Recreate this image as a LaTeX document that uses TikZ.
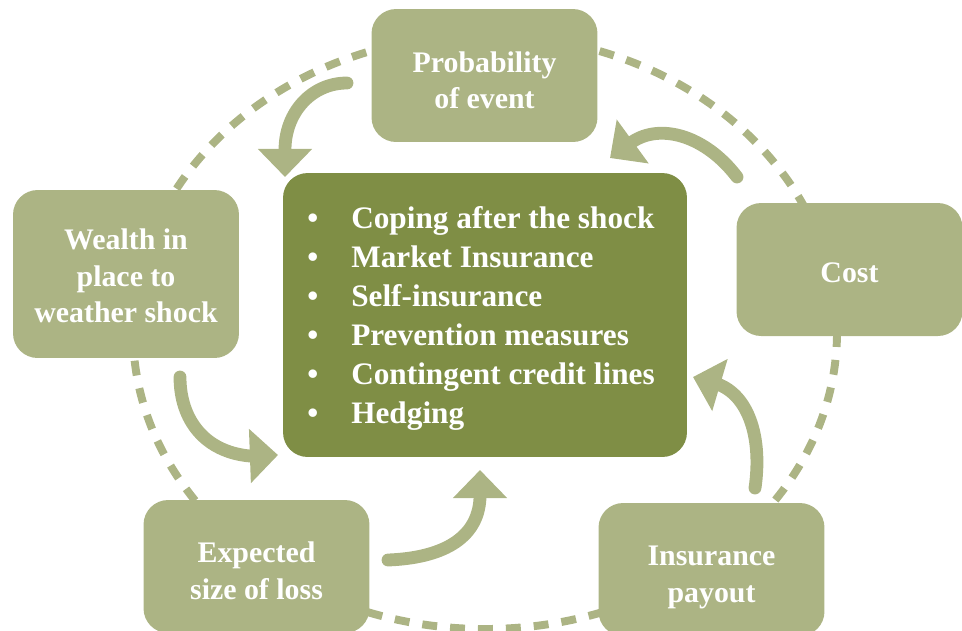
\documentclass[tikz,border=0pt]{standalone}
\usepackage{fontspec}
\setmainfont{Liberation Serif}
\usetikzlibrary{arrows.meta}
\definecolor{sage}{HTML}{ACB484}
\definecolor{olive}{HTML}{7F8E45}
\begin{document}
\begin{tikzpicture}[x=0.02cm,y=-0.02cm,
  lightbox/.style={fill=sage, rounded corners=14pt, inner sep=0pt,
    minimum height=2.66cm, minimum width=4.52cm},
  boxtext/.style={text=white, font=\bfseries\fontsize{17}{20.8}\selectfont,
    align=center, inner sep=0pt},
  mainbox/.style={fill=olive, rounded corners=14pt, inner sep=0pt,
    minimum width=8.08cm, minimum height=5.68cm},
  item/.style={anchor=base west, text=white, inner sep=0pt,
    font=\bfseries\fontsize{17.8}{22}\selectfont},
  ring/.style={draw=sage, line width=4.5pt, dash pattern=on 8.5pt off 7.4pt},
  flow/.style={draw=sage, line width=7.3pt, line cap=round,
    -{Triangle[width=30pt,length=16pt]}}]
\useasboundingbox (0,0) rectangle (962,630);
\begin{scope}
\clip (0,0) rectangle (962,630);

% dashed cycle behind the boxes
\draw[ring] (485,332) ellipse [x radius=352, y radius=297];

% outer factors
\node[lightbox] (prob) at (484.5,75.5) {};
\node[lightbox] (cost) at (849.5,269.5) {};
\node[lightbox, minimum height=3.36cm] (wealth) at (126,274) {};
\node[lightbox] (loss) at (256.5,566.5) {};
\node[lightbox] (payout) at (711.5,569.5) {};

\node[boxtext] (probtxt)   at ([yshift=-2.8pt]prob.center)   {Probability\\of event};
\node[boxtext] (costtxt)   at ([yshift=-1.7pt]cost.center)   {Cost};
\node[boxtext] (wealthtxt) at ([yshift=-1.1pt]wealth.center) {Wealth in\\place to\\weather shock};
\node[boxtext] (losstxt)   at ([yshift=-2.3pt]loss.center)   {Expected\\size of loss};
\node[boxtext] (payouttxt) at ([yshift=-4.5pt]payout.center) {Insurance\\payout};

% central box with the list of instruments
\node[mainbox] (core) at (485,315) {};
\foreach \t [count=\i] in {Coping after the shock, Market Insurance, Self-insurance,
    Prevention measures, Contingent credit lines, Hedging}
  \node[item] (item\i) at (307,{228+39*(\i-1)}) {\makebox[25pt][l]{\textbullet}\t};
\end{scope}

% curved arrows pointing into the central box
\coordinate (a1s) at (347,83);  \coordinate (a1t) at (285,177);
\coordinate (a2s) at (737,177); \coordinate (a2t) at (610,158);
\coordinate (a3s) at (180,377); \coordinate (a3t) at (278,455);
\coordinate (a4s) at (388,560); \coordinate (a4t) at (480,470);
\coordinate (a5s) at (755,488); \coordinate (a5t) at (693,377);

\draw[flow] (a1s) .. controls (312,83) and (285,112) .. (285,150) -- (a1t);
\draw[flow] (a2s) .. controls (705,135) and (660,123) .. (632,142) -- (a2t);
\draw[flow] (a3s) .. controls (180,420) and (205,452) .. (250,456) -- (a3t);
\draw[flow] (a4s) .. controls (440,558) and (478,540) .. (480,498) -- (a4t);
\draw[flow] (a5s) .. controls (762,440) and (750,398) .. (720,385) -- (a5t);
\end{tikzpicture}
\end{document}
